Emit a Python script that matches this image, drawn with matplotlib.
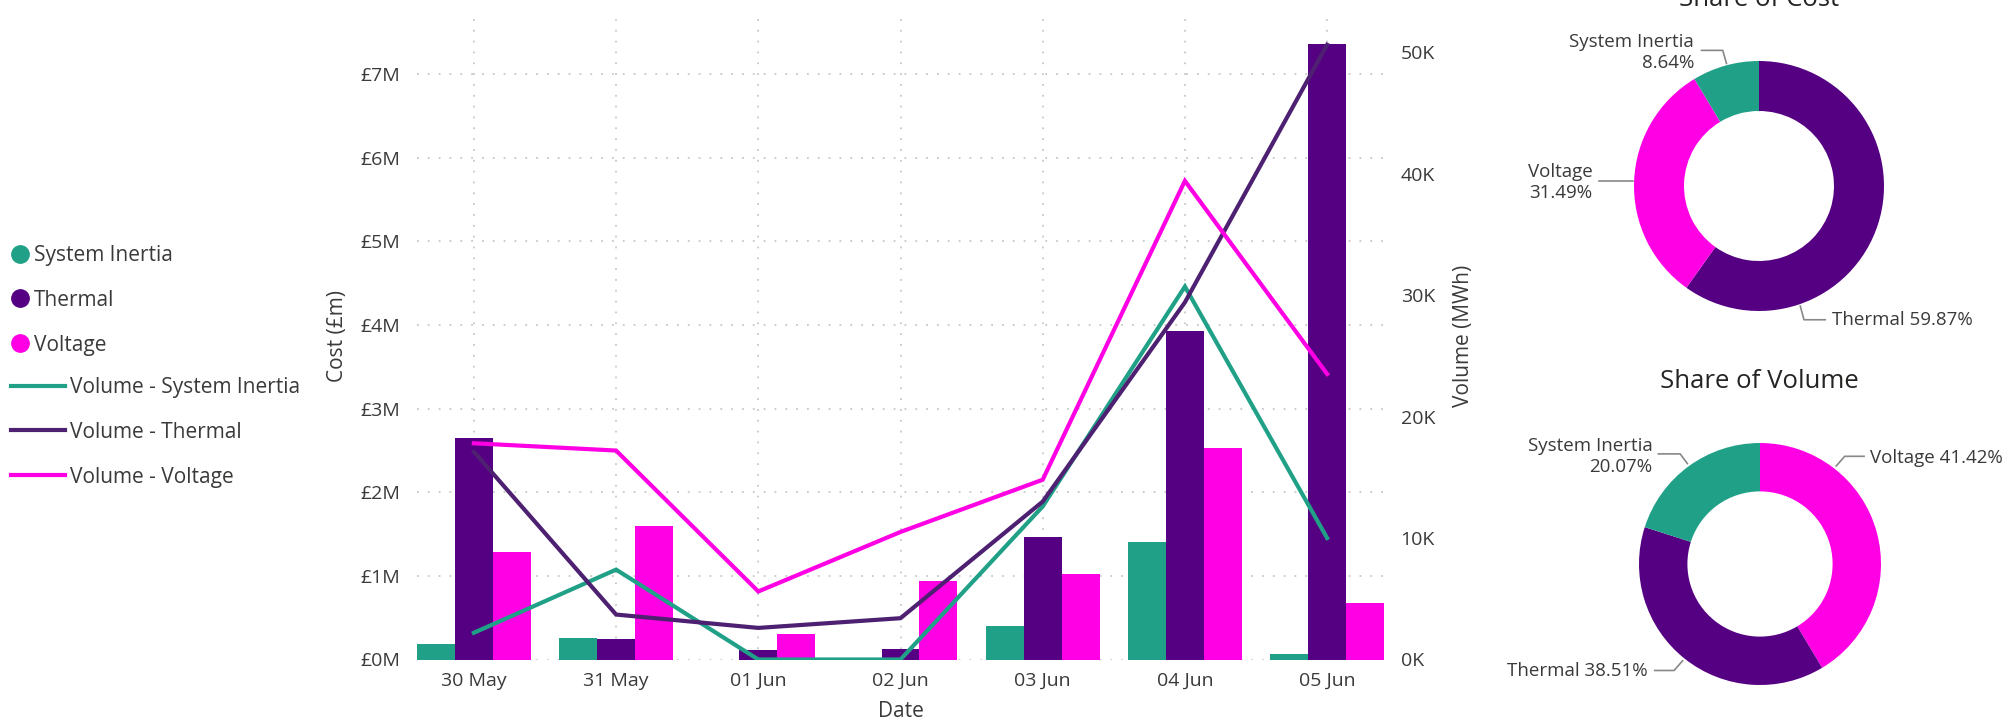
import matplotlib
matplotlib.use("Agg")
import matplotlib.pyplot as plt
from matplotlib.lines import Line2D
import numpy as np

plt.rcParams['font.family'] = ['Open Sans', 'DejaVu Sans']

# ---- data ----
dates = ["30 May", "31 May", "01 Jun", "02 Jun", "03 Jun", "04 Jun", "05 Jun"]
services = ["System Inertia", "Thermal", "Voltage"]

# daily cost, £m
cost_inertia = [0.18, 0.26, 0.0, 0.0, 0.40, 1.40, 0.07]
cost_thermal = [2.65, 0.25, 0.11, 0.13, 1.46, 3.93, 7.36]
cost_voltage = [1.29, 1.60, 0.30, 0.94, 1.02, 2.53, 0.68]

# daily volume, thousand MWh
vol_inertia = [2.2, 7.4, 0.0, 0.0, 12.6, 30.7, 10.0]
vol_thermal = [17.1, 3.7, 2.6, 3.4, 13.0, 29.4, 50.6]
vol_voltage = [17.8, 17.2, 5.6, 10.5, 14.8, 39.4, 23.5]

# totals shown in the doughnuts, %
cost_share = [8.64, 59.87, 31.49]
volume_share = [20.07, 38.51, 41.42]

# ---- styling ----
W, H = 2016, 721
bar_colors = ["#20A187", "#550082", "#FF00E4"]
line_colors = ["#20A187", "#4E2072", "#FF00E4"]
text_col = "#3B3A39"
grid_col = "#C8C8C8"

fig = plt.figure(figsize=(W / 100, H / 100), dpi=100)


def px_rect(left, top, right, bottom):
    return [left / W, 1 - bottom / H, (right - left) / W, (bottom - top) / H]


# ---- combo chart: bars for cost, lines for volume ----
ax = fig.add_axes(px_rect(417, 12, 1384, 659.5))
x = np.arange(len(dates))
bw = 0.8 / 3
for i, vals in enumerate([cost_inertia, cost_thermal, cost_voltage]):
    ax.bar(x + (i - 1) * bw, vals, width=bw, color=bar_colors[i], zorder=2)

ax.set_xlim(-0.4, len(dates) - 0.6)
ax.set_ylim(0, 7.745)
ax.set_yticks(range(0, 8))
ax.set_yticklabels([f"£{v}M" for v in range(0, 8)])
ax.set_xticks(x)
ax.set_xticklabels(dates)
ax.tick_params(length=0, labelsize=14, colors=text_col)
ax.tick_params(axis="y", pad=12)
ax.tick_params(axis="x", pad=9)
ax.grid(True, linestyle=(0, (1, 5)), color=grid_col, linewidth=1.3, zorder=0)
ax.set_axisbelow(True)
for s in ax.spines.values():
    s.set_visible(False)
ax.set_ylabel("Cost (£m)", fontsize=15, color=text_col)
ax.yaxis.set_label_coords(-0.071, 0.5)
ax.set_xlabel("Date", fontsize=15, color=text_col)
ax.xaxis.set_label_coords(0.5, -0.064)

ax2 = ax.twinx()
for i, vals in enumerate([vol_inertia, vol_thermal, vol_voltage]):
    ax2.plot(x, vals, color=line_colors[i], linewidth=3, solid_joinstyle="miter", zorder=3)
ax2.set_ylim(0, 53.3)
ax2.set_yticks(range(0, 51, 10))
ax2.set_yticklabels([f"{v}K" for v in range(0, 51, 10)])
ax2.tick_params(length=0, labelsize=14, colors=text_col, pad=12)
for s in ax2.spines.values():
    s.set_visible(False)
ax2.set_ylabel("Volume (MWh)", fontsize=15, color=text_col)
ax2.yaxis.set_label_coords(1.071, 0.5)

# ---- legends on the left ----
circle_handles = [Line2D([], [], ls="none", marker="o", ms=12.5, mfc=c, mec=c) for c in bar_colors]
fig.legend(circle_handles, services, loc="upper left",
           bbox_to_anchor=(9 / W, 1 - 245 / H), frameon=False, fontsize=15,
           handlelength=1.1, handletextpad=0.1, borderpad=0, borderaxespad=0,
           labelspacing=1.14, labelcolor=text_col)
line_handles = [Line2D([], [], color=c, lw=3) for c in line_colors]
fig.legend(line_handles, ["Volume - " + s for s in services], loc="upper left",
           bbox_to_anchor=(11 / W, 1 - 377 / H), frameon=False, fontsize=15,
           handlelength=2.6, handletextpad=0.25, borderpad=0, borderaxespad=0,
           labelspacing=1.14, labelcolor=text_col)


# ---- doughnuts ----
def draw_donut(cx, cy, r, shares, layout):
    pax = fig.add_axes(px_rect(cx - r, cy - r, cx + r, cy + r))
    order = np.argsort(shares)[::-1]
    pax.pie([shares[i] for i in order], colors=[bar_colors[i] for i in order],
            startangle=90, counterclock=False, radius=1,
            wedgeprops=dict(width=0.4, edgecolor="none"))
    pax.set_xlim(-1, 1)
    pax.set_ylim(-1, 1)
    pax.set_aspect("equal")
    for i, name in enumerate(services):
        tx, ty, ha, two_lines, leader = layout[i]
        sep = "\n" if two_lines else " "
        pax.text(tx, ty, f"{name}{sep}{shares[i]:.2f}%", ha=ha, va="center",
                 multialignment=ha, fontsize=13.5, color=text_col, linespacing=1.2,
                 clip_on=False)
        lx, ly = zip(*leader)
        pax.plot(lx, ly, color="#8A8886", lw=1.2, clip_on=False)
    return pax


cost_layout = [
    (-0.52, 1.07, "right", True, [(-0.46, 1.085), (-0.29, 1.085), (-0.26, 0.98)]),
    (0.58, -1.075, "left", False, [(0.33, -0.96), (0.36, -1.07), (0.53, -1.07)]),
    (-1.33, 0.025, "right", True, [(-1.28, 0.04), (-1.01, 0.04)]),
]
volume_layout = [
    (-0.89, 0.89, "right", True, [(-0.84, 0.91), (-0.66, 0.91), (-0.60, 0.83)]),
    (-0.93, -0.885, "right", False, [(-0.87, -0.88), (-0.71, -0.88), (-0.64, -0.80)]),
    (0.91, 0.875, "left", False, [(0.63, 0.81), (0.70, 0.89), (0.86, 0.89)]),
]

draw_donut(1759, 186, 125, cost_share, cost_layout)
draw_donut(1760, 564, 121, volume_share, volume_layout)

fig.text(1759 / W, 1 - 6 / H, "Share of Cost", ha="center", va="baseline",
         fontsize=18.5, color="#252423")
fig.text(1759 / W, 1 - 381 / H, "Share of Volume", ha="center", va="center",
         fontsize=18.5, color="#252423")

fig.savefig("out.png", dpi=100)
